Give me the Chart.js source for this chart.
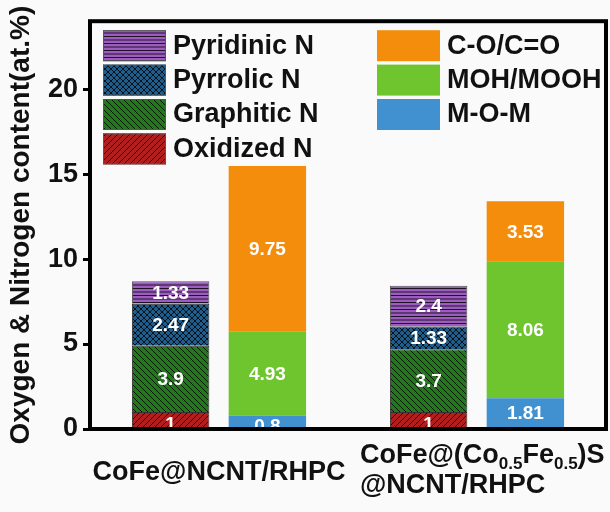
<!DOCTYPE html>
<html>
<head>
<meta charset="utf-8">
<script src="https://cdn.jsdelivr.net/npm/chart.js@4.4.0/dist/chart.umd.min.js"></script>
<style>
  html, body { margin: 0; padding: 0; background: #fafafa; }
  #wrap { width: 610px; height: 512px; }
</style>
</head>
<body>
<div id="wrap"><canvas id="content_chart"></canvas></div>
<script>
var categories = ['CoFe@NCNT/RHPC', 'CoFe@(Co0.5Fe0.5)S@NCNT/RHPC'];

// nitrogen species (bottom to top)
var oxidized_n = [1, 1];
var graphitic_n = [3.9, 3.7];
var pyrrolic_n = [2.47, 1.33];
var pyridinic_n = [1.33, 2.4];

// oxygen species (bottom to top)
var mom = [0.8, 1.81];
var moh_mooh = [4.93, 8.06];
var co_c_o = [9.75, 3.53];

var y_ticks = [0, 5, 10, 15, 20];

function makePattern(bg, kind) {
  var size = kind === 'horiz' ? 7 : 6;
  var c = document.createElement('canvas');
  c.width = size; c.height = size;
  var g = c.getContext('2d');
  g.fillStyle = bg;
  g.fillRect(0, 0, size, size);
  g.strokeStyle = 'rgba(0,0,0,0.8)';
  g.lineWidth = 1;
  g.beginPath();
  if (kind === 'horiz') {
    g.moveTo(0, 1.5); g.lineTo(size, 1.5);
    g.moveTo(0, 5); g.lineTo(size, 5);
  } else if (kind === 'back') {
    // "\" lines
    g.moveTo(-1, -1); g.lineTo(size + 1, size + 1);
    g.moveTo(-1, size - 1); g.lineTo(1, size + 1);
    g.moveTo(size - 1, -1); g.lineTo(size + 1, 1);
  } else if (kind === 'fwd') {
    // "/" lines
    g.moveTo(-1, size + 1); g.lineTo(size + 1, -1);
    g.moveTo(-1, 1); g.lineTo(1, -1);
    g.moveTo(size - 1, size + 1); g.lineTo(size + 1, size - 1);
  } else if (kind === 'cross') {
    g.moveTo(-1, -1); g.lineTo(size + 1, size + 1);
    g.moveTo(-1, size + 1); g.lineTo(size + 1, -1);
  }
  g.stroke();
  var ctx = document.createElement('canvas').getContext('2d');
  return ctx.createPattern(c, 'repeat');
}

var pyridinic_fill = makePattern('#9d5cc0', 'horiz');
var pyrrolic_fill = makePattern('#1f5d8c', 'cross');
var graphitic_fill = makePattern('#23771c', 'back');
var oxidized_fill = makePattern('#b21e1e', 'fwd');

var datasets = [
  { label: 'Oxidized N', data: oxidized_n, stack: 'N', backgroundColor: oxidized_fill, borderColor: '#333', borderWidth: 1 },
  { label: 'Graphitic N', data: graphitic_n, stack: 'N', backgroundColor: graphitic_fill, borderColor: '#333', borderWidth: 1 },
  { label: 'Pyrrolic N', data: pyrrolic_n, stack: 'N', backgroundColor: pyrrolic_fill, borderColor: '#333', borderWidth: 1 },
  { label: 'Pyridinic N', data: pyridinic_n, stack: 'N', backgroundColor: pyridinic_fill, borderColor: '#555', borderWidth: 1 },
  { label: 'M-O-M', data: mom, stack: 'O', backgroundColor: '#4190cf', borderWidth: 0 },
  { label: 'MOH/MOOH', data: moh_mooh, stack: 'O', backgroundColor: '#6ec52e', borderWidth: 0 },
  { label: 'C-O/C=O', data: co_c_o, stack: 'O', backgroundColor: '#f58d0c', borderWidth: 0 }
];

var FONT = 'Liberation Sans, Arial, sans-serif';

// value labels inside the segments
var valueLabels = {
  id: 'valueLabels',
  afterDatasetsDraw: function(chart) {
    var ctx = chart.ctx, a = chart.chartArea;
    ctx.save();
    ctx.beginPath();
    ctx.rect(a.left, a.top, a.right - a.left, a.bottom - a.top);
    ctx.clip();
    ctx.fillStyle = '#ffffff';
    ctx.font = 'bold 19px ' + FONT;
    ctx.textAlign = 'center';
    ctx.textBaseline = 'middle';
    chart.data.datasets.forEach(function(ds, i) {
      chart.getDatasetMeta(i).data.forEach(function(bar, j) {
        var p = bar.getProps(['x', 'y', 'base'], true);
        var h = p.base - p.y;
        var yc = (p.y + p.base) / 2 + 1;
        if (h < 20) yc += 4; // short bottom segments: text runs into the axis
        ctx.fillText(String(ds.data[j]), p.x, yc);
      });
    });
    ctx.restore();
  }
};

// frame, legend and category labels
var decorations = {
  id: 'decorations',
  afterDraw: function(chart) {
    var ctx = chart.ctx, a = chart.chartArea;
    ctx.save();
    ctx.strokeStyle = '#000';
    ctx.lineWidth = 4;
    ctx.strokeRect(a.left, a.top, a.right - a.left, a.bottom - a.top);

    // legend
    var byLabel = {};
    chart.data.datasets.forEach(function(ds) { byLabel[ds.label] = ds; });
    var cols = [
      { x: a.left + 13, names: ['Pyridinic N', 'Pyrrolic N', 'Graphitic N', 'Oxidized N'] },
      { x: a.left + 287, names: ['C-O/C=O', 'MOH/MOOH', 'M-O-M'] }
    ];
    ctx.font = 'bold 27px ' + FONT;
    ctx.textBaseline = 'middle';
    ctx.textAlign = 'left';
    cols.forEach(function(col) {
      col.names.forEach(function(name, k) {
        var ds = byLabel[name];
        var top = a.top + 9 + k * 34.4;
        ctx.fillStyle = ds.backgroundColor;
        ctx.fillRect(col.x, top, 63, 31);
        if (ds.stack === 'N') {
          ctx.lineWidth = 1;
          ctx.strokeStyle = '#555';
          ctx.strokeRect(col.x + 0.5, top + 0.5, 62, 30);
        }
        ctx.fillStyle = '#111';
        ctx.fillText(name, col.x + 70, top + 16);
      });
    });

    // category labels (with subscripts)
    var xs = chart.scales.x;
    var c0 = xs.getPixelForValue(0), c1 = xs.getPixelForValue(1);
    ctx.fillStyle = '#111';
    ctx.font = 'bold 27px ' + FONT;
    ctx.textBaseline = 'alphabetic';
    ctx.textAlign = 'center';
    ctx.fillText('CoFe@NCNT/RHPC', c0, 480);

    ctx.textAlign = 'left';
    var parts = [['CoFe@(Co', 0], ['0.5', 1], ['Fe', 0], ['0.5', 1], [')S', 0]];
    var x = c1 - 117;
    parts.forEach(function(p) {
      ctx.font = p[1] ? 'bold 17px ' + FONT : 'bold 27px ' + FONT;
      ctx.fillText(p[0], x, p[1] ? 469 : 463);
      x += ctx.measureText(p[0]).width;
    });
    ctx.font = 'bold 27px ' + FONT;
    ctx.fillText('@NCNT/RHPC', c1 - 117, 493);
    ctx.restore();
  }
};

window.onload = function() {
  var content_ctx = document.getElementById('content_chart').getContext('2d');
  var content_chart = new Chart(content_ctx, {
    type: 'bar',
    data: { labels: categories, datasets: datasets },
    options: {
      responsive: true,
      maintainAspectRatio: false,
      animation: false,
      layout: { padding: { top: 12, right: 4, left: 0, bottom: 0 } },
      plugins: {
        legend: { display: false },
        title: { display: false },
        tooltip: { enabled: false }
      },
      datasets: { bar: { barPercentage: 0.8, categoryPercentage: 0.75 } },
      scales: {
        x: {
          stacked: true,
          grid: { display: false },
          border: { display: false },
          ticks: { display: false },
          afterFit: function(s) { s.height = 83; }
        },
        y: {
          stacked: true,
          min: 0,
          max: 24,
          afterBuildTicks: function(s) {
            s.ticks = y_ticks.map(function(v) { return { value: v }; });
          },
          grid: { drawOnChartArea: false, color: '#000', lineWidth: 3, tickLength: 7 },
          border: { display: false },
          ticks: {
            color: '#111',
            padding: 5,
            font: { family: FONT, size: 27, weight: 'bold' }
          },
          title: {
            display: true,
            text: 'Oxygen & Nitrogen content(at.%)',
            color: '#111',
            padding: { top: 4, bottom: 0 },
            font: { family: FONT, size: 28, weight: 'bold' }
          },
          afterFit: function(s) { s.width = 90; }
        }
      }
    },
    plugins: [valueLabels, decorations]
  });
};
</script>
</body>
</html>
